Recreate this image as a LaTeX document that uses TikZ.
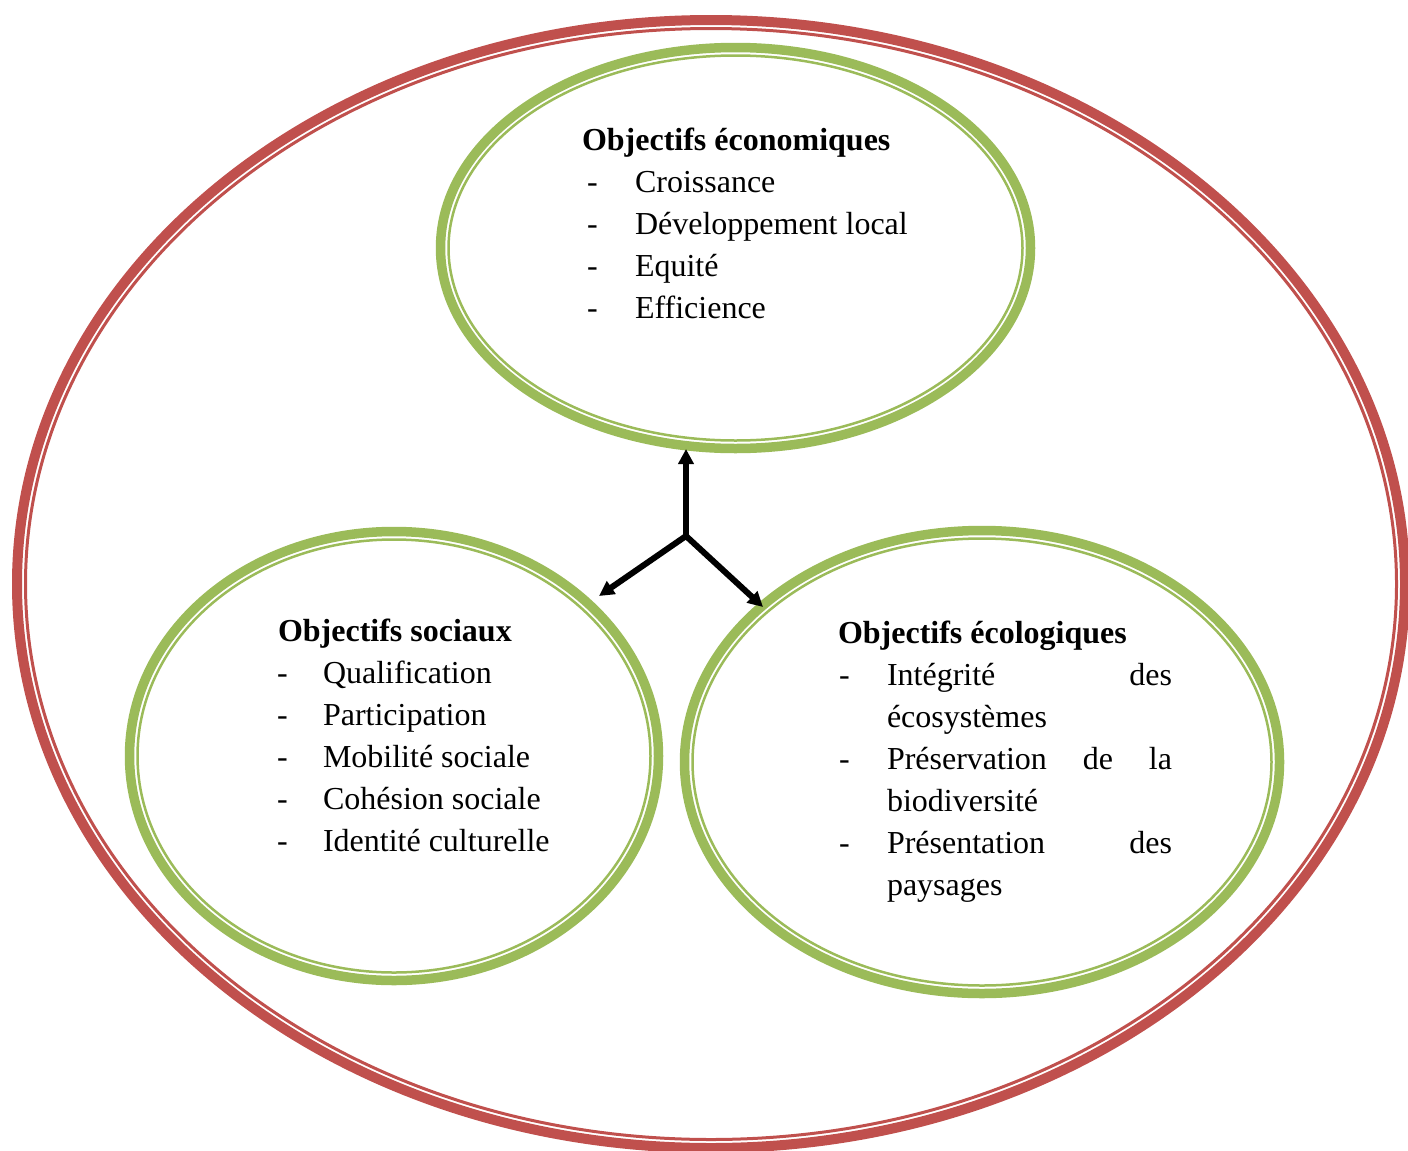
\documentclass[tikz,border=0pt]{standalone}
\usepackage{fontspec}
\setmainfont{Liberation Serif}
\usetikzlibrary{arrows.meta,shapes.geometric}
\definecolor{redring}{HTML}{C0504D}
\definecolor{greenring}{HTML}{9BBB59}
\tikzset{
  outerring/.style={ellipse, draw=redring, line width=10pt, inner sep=0pt, outer sep=0pt},
  outerthin/.style={draw=redring, line width=3pt},
  greenring/.style={ellipse, draw=greenring, line width=9.5pt, inner sep=0pt, outer sep=0pt},
  greenthin/.style={draw=greenring, line width=2.5pt},
  link/.style={line width=6pt, line cap=round, -{Triangle[length=15pt,width=15pt]}},
  txt/.style={anchor=base west, inner sep=0pt, outer sep=0pt, font=\fontsize{32}{42}\selectfont},
  ttl/.style={txt, font=\fontsize{32}{42}\selectfont\bfseries}
}
\begin{document}
\begin{tikzpicture}[x=1pt,y=-1pt]
\useasboundingbox (0,0) rectangle (1408,1151);

% outer red ring
\node[outerring, minimum width=1388pt, minimum height=1128pt] (outer) at (711,584) {};
\draw[outerthin] (outer.center) ellipse [x radius=685.5, y radius=555.5];

% green rings
\node[greenring, minimum width=590pt, minimum height=401pt] (eco) at (735.5,248) {};
\draw[greenthin] (eco.center) ellipse [x radius=287, y radius=192.5];

\node[greenring, minimum width=529pt, minimum height=449pt] (soc) at (394,756) {};
\draw[greenthin] (soc.center) ellipse [x radius=256.5, y radius=216.5];

\node[greenring, minimum width=595pt, minimum height=463pt] (ecol) at (982,762) {};
\draw[greenthin] (ecol.center) ellipse [x radius=289.5, y radius=223.5];

% arrows
\coordinate (hub) at (686,536);
\coordinate (tipeco) at (686,449);
\coordinate (tipsoc) at (599,596);
\coordinate (tipecol) at (763,607);
\draw[link] (hub) -- (tipeco);
\draw[link] (hub) -- (tipsoc);
\draw[link] (hub) -- (tipecol);

% economic objectives
\node[ttl] (eco-title) at (582,150) {Objectifs économiques};
\foreach \i/\t in {1/Croissance, 2/Développement local, 3/Equité, 4/Efficience}{
  \node[txt] (eco-d\i) at (587,150+42*\i) {-};
  \node[txt] (eco-i\i) at (635,150+42*\i) {\t};
}

% social objectives
\node[ttl] (soc-title) at (278,641) {Objectifs sociaux};
\foreach \i/\t in {1/Qualification, 2/Participation, 3/Mobilité sociale, 4/Cohésion sociale, 5/Identité culturelle}{
  \node[txt] (soc-d\i) at (277,641+42*\i) {-};
  \node[txt] (soc-i\i) at (323,641+42*\i) {\t};
}

% ecological objectives
\node[ttl] (ecol-title) at (838,643) {Objectifs écologiques};
\foreach \i in {1,3,5}{
  \node[txt] (ecol-d\i) at (839,643+42*\i) {-};
}
\node[txt] (ecol-i1) at (887,685) {\hbox to 285pt{Intégrité\hfill des}};
\node[txt] (ecol-i2) at (887,727) {écosystèmes};
\node[txt] (ecol-i3) at (887,769) {\hbox to 285pt{Préservation\hfill de\hfill la}};
\node[txt] (ecol-i4) at (887,811) {biodiversité};
\node[txt] (ecol-i5) at (887,853) {\hbox to 285pt{Présentation\hfill des}};
\node[txt] (ecol-i6) at (887,895) {paysages};
\end{tikzpicture}
\end{document}
